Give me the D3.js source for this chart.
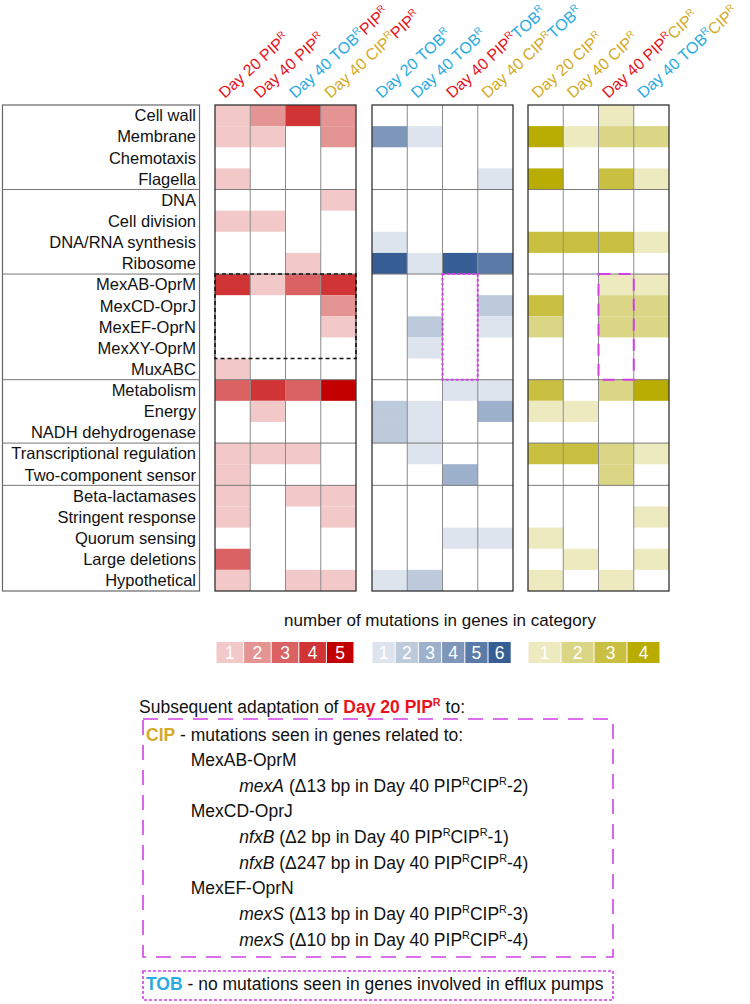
<!DOCTYPE html>
<html><head><meta charset="utf-8">
<script src="https://cdn.jsdelivr.net/npm/d3@7"></script>
<style>body{margin:0;background:#fff} svg{display:block;font-family:"Liberation Sans",Arial,sans-serif}</style>
</head><body><svg id="c" width="750" height="1004"></svg>
<script>
const categories = ["Cell wall","Membrane","Chemotaxis","Flagella","DNA","Cell division","DNA/RNA synthesis","Ribosome","MexAB-OprM","MexCD-OprJ","MexEF-OprN","MexXY-OprM","MuxABC","Metabolism","Energy","NADH dehydrogenase","Transcriptional regulation","Two-component sensor","Beta-lactamases","Stringent response","Quorum sensing","Large deletions","Hypothetical"];
const groupEnds = ["Flagella","Ribosome","MuxABC","NADH dehydrogenase","Two-component sensor"];

// column labels: segments [text, drug colour key]; each segment gets a superscript R
const pipColumns = [[["Day 20 PIP","PIP"]],[["Day 40 PIP","PIP"]],[["Day 40 TOB","TOB"],["PIP","PIP"]],[["Day 40 CIP","CIP"],["PIP","PIP"]]];
const tobColumns = [[["Day 20 TOB","TOB"]],[["Day 40 TOB","TOB"]],[["Day 40 PIP","PIP"],["TOB","TOB"]],[["Day 40 CIP","CIP"],["TOB","TOB"]]];
const cipColumns = [[["Day 20 CIP","CIP"]],[["Day 40 CIP","CIP"]],[["Day 40 PIP","PIP"],["CIP","CIP"]],[["Day 40 TOB","TOB"],["CIP","CIP"]]];

// number of mutations per category (rows) x column
const pipValues = [
 [1,2,4,2],[1,1,0,2],[0,0,0,0],[1,0,0,0],[0,0,0,1],[1,1,0,0],[0,0,0,0],[0,0,1,0],
 [4,1,3,4],[0,0,0,2],[0,0,0,1],[0,0,0,0],[1,0,0,0],
 [3,4,3,5],[0,1,0,0],[0,0,0,0],
 [1,1,1,0],[1,0,0,0],
 [1,0,1,1],[1,0,0,1],[0,0,0,0],[3,0,0,0],[1,0,1,1]];
const tobValues = [
 [0,0,0,0],[4,1,0,0],[0,0,0,0],[0,0,0,1],[0,0,0,0],[0,0,0,0],[1,0,0,0],[6,1,6,5],
 [0,0,0,0],[0,0,0,2],[0,2,0,1],[0,1,0,0],[0,0,0,0],
 [0,0,1,1],[2,1,0,3],[2,1,0,0],
 [0,1,0,0],[0,0,3,0],
 [0,0,0,0],[0,0,0,0],[0,0,1,1],[0,0,0,0],[1,2,0,0]];
const cipValues = [
 [0,0,1,0],[4,1,2,2],[0,0,0,0],[4,0,3,1],[0,0,0,0],[0,0,0,0],[3,3,3,1],[0,0,0,0],
 [0,0,1,1],[3,0,2,2],[2,0,2,2],[0,0,0,0],[0,0,0,0],
 [3,0,2,4],[1,1,0,0],[0,0,0,0],
 [3,3,2,1],[0,0,2,0],
 [0,0,0,0],[0,0,0,1],[1,0,0,0],[0,1,0,1],[1,0,1,0]];

const redLevels = [1,2,3,4,5];
const blueLevels = [1,2,3,4,5,6];
const yellowLevels = [1,2,3,4];
const redColors = ["#f2c8c8","#e59494","#db6262","#d03434","#c20000"];
const blueColors = ["#dde4ee","#bdcadc","#9db1cc","#7d96ba","#5a7ba8","#375e94"];
const yellowColors = ["#edeac0","#dad686","#c9c042","#b9ad04"];
const drugColors = {PIP:"#e8131b", TOB:"#29abe2", CIP:"#d4aa26"};
const legendTitle = "number of mutations in genes in category";

const svg = d3.select("#c");
const rowTop = 105, rowBottom = 591;
const y = d3.scaleBand().domain(categories).range([rowTop, rowBottom]);
const rh = y.bandwidth();

const panels = [
 {x0:215, cols:pipColumns, vals:pipValues, levels:redLevels, colors:redColors, lx:216, lw:27.6},
 {x0:372, cols:tobColumns, vals:tobValues, levels:blueLevels, colors:blueColors, lx:372, lw:23.2},
 {x0:528, cols:cipColumns, vals:cipValues, levels:yellowLevels, colors:yellowColors, lx:528, lw:33}
];
const panelW = 141;

// label box
svg.append("rect").attr("x",2.5).attr("y",rowTop).attr("width",197).attr("height",rowBottom-rowTop)
  .attr("fill","none").attr("stroke","#666").attr("stroke-width",1.2);
groupEnds.forEach(g=>{
  const yy = y(g)+rh;
  svg.append("line").attr("x1",2.5).attr("x2",199.5).attr("y1",yy).attr("y2",yy).attr("stroke","#777").attr("stroke-width",1);
});
svg.append("g").selectAll("text").data(categories).join("text")
  .attr("x",196).attr("y",d=>y(d)+rh/2).attr("dy","0.35em").attr("text-anchor","end")
  .attr("font-size","16.5px").attr("fill","#111").text(d=>d);

function addLabel(g, segs, x, yy, size){
  const t = g.append("text").attr("transform",`translate(${x},${yy}) rotate(-42)`).attr("font-size",size+"px");
  const up = size*0.4;
  segs.forEach((s,i)=>{
    const main = t.append("tspan").attr("fill",drugColors[s[1]]).text(s[0]);
    if(i>0) main.attr("dy",up);
    t.append("tspan").attr("fill",drugColors[s[1]]).attr("font-size",(size*0.62)+"px").attr("dy",-up).text("R");
  });
}

panels.forEach(p=>{
  const x = d3.scaleBand().domain(d3.range(4)).range([p.x0, p.x0+panelW]);
  const color = d3.scaleOrdinal().domain(p.levels).range(p.colors);
  const g = svg.append("g");
  const cells = [];
  categories.forEach((c,i)=>p.vals[i].forEach((v,j)=>{ if(v>0) cells.push({c,j,v}); }));
  g.selectAll("rect.cell").data(cells).join("rect").attr("class","cell")
    .attr("x",d=>x(d.j)).attr("y",d=>y(d.c)).attr("width",x.bandwidth()).attr("height",rh)
    .attr("fill",d=>color(d.v));
  [1,2,3].forEach(j=>{
    g.append("line").attr("x1",x(j)).attr("x2",x(j)).attr("y1",rowTop).attr("y2",rowBottom).attr("stroke","#8c8c8c").attr("stroke-width",1);
  });
  groupEnds.forEach(ge=>{
    const yy = y(ge)+rh;
    g.append("line").attr("x1",p.x0).attr("x2",p.x0+panelW).attr("y1",yy).attr("y2",yy).attr("stroke","#7a7a7a").attr("stroke-width",1);
  });
  g.append("rect").attr("x",p.x0).attr("y",rowTop).attr("width",panelW).attr("height",rowBottom-rowTop)
    .attr("fill","none").attr("stroke","#333").attr("stroke-width",1.3);
  p.cols.forEach((segs,j)=>addLabel(svg, segs, x(j)+x.bandwidth()/2-8, 99, 16));
  const lg = svg.append("g");
  p.levels.forEach((lv,k)=>{
    lg.append("rect").attr("x",p.lx+k*p.lw+0.5).attr("y",642).attr("width",p.lw-1).attr("height",21).attr("fill",color(lv));
    lg.append("text").attr("x",p.lx+k*p.lw+p.lw/2).attr("y",652.5).attr("dy","0.36em").attr("text-anchor","middle")
      .attr("fill","#fff").attr("font-size","17.5px").text(lv);
  });
  p.xScale = x;
});

// highlight boxes
const xr = panels[0].xScale, xb = panels[1].xScale, xc = panels[2].xScale;
svg.append("rect").attr("x",xr(0)).attr("y",y("MexAB-OprM")).attr("width",panelW).attr("height",y("MuxABC")-y("MexAB-OprM"))
  .attr("fill","none").attr("stroke","#111").attr("stroke-width",1.5).attr("stroke-dasharray","4,3");
svg.append("rect").attr("x",xb(2)).attr("y",y("MexAB-OprM")).attr("width",xb.bandwidth()).attr("height",y("Metabolism")-y("MexAB-OprM"))
  .attr("fill","none").attr("stroke","#d040e6").attr("stroke-width",2).attr("stroke-dasharray","3,2");
svg.append("rect").attr("x",xc(2)).attr("y",y("MexAB-OprM")).attr("width",xc.bandwidth()).attr("height",y("Metabolism")-y("MexAB-OprM"))
  .attr("fill","none").attr("stroke","#d040e6").attr("stroke-width",2).attr("stroke-dasharray","12,8");

svg.append("text").attr("x",440).attr("y",626).attr("text-anchor","middle").attr("font-size","17px").attr("fill","#111").text(legendTitle);

// text block
const fs = 17.5;
const intro = svg.append("text").attr("x",139).attr("y",713).attr("font-size",fs+"px").attr("fill","#111");
intro.append("tspan").text("Subsequent adaptation of ");
intro.append("tspan").attr("font-weight","bold").attr("fill",drugColors.PIP).text("Day 20 PIP");
intro.append("tspan").attr("font-weight","bold").attr("fill",drugColors.PIP).attr("font-size",(fs*0.62)+"px").attr("dy",-fs*0.4).text("R");
intro.append("tspan").attr("dy",fs*0.4).text(" to:");

svg.append("rect").attr("x",143).attr("y",719).attr("width",470).attr("height",238)
  .attr("fill","none").attr("stroke","#d040e6").attr("stroke-width",1.6).attr("stroke-dasharray","15,10");
svg.append("rect").attr("x",143).attr("y",971).attr("width",470).attr("height",29)
  .attr("fill","none").attr("stroke","#d040e6").attr("stroke-width",1.6).attr("stroke-dasharray","3,2");

const cipLine = svg.append("text").attr("x",146).attr("y",741).attr("font-size",fs+"px").attr("fill","#111");
cipLine.append("tspan").attr("font-weight","bold").attr("fill",drugColors.CIP).text("CIP");
cipLine.append("tspan").text(" - mutations seen in genes related to:");

const pumpLines = [
 {pump:"MexAB-OprM", y:766, genes:[["mexA","13","2",792]]},
 {pump:"MexCD-OprJ", y:817, genes:[["nfxB","2","1",843],["nfxB","247","4",869]]},
 {pump:"MexEF-OprN", y:894, genes:[["mexS","13","3",920],["mexS","10","4",946]]}
];
const sh = fs*0.4, ss = (fs*0.62)+"px";
pumpLines.forEach(pl=>{
  svg.append("text").attr("x",190.7).attr("y",pl.y).attr("font-size",fs+"px").attr("fill","#111").text(pl.pump);
  pl.genes.forEach(gn=>{
    const t = svg.append("text").attr("x",239.3).attr("y",gn[3]).attr("font-size",fs+"px").attr("fill","#111");
    t.append("tspan").attr("font-style","italic").text(gn[0]);
    t.append("tspan").text(` (\u0394${gn[1]} bp in Day 40 PIP`);
    t.append("tspan").attr("font-size",ss).attr("dy",-sh).text("R");
    t.append("tspan").attr("dy",sh).text("CIP");
    t.append("tspan").attr("font-size",ss).attr("dy",-sh).text("R");
    t.append("tspan").attr("dy",sh).text(`-${gn[2]})`);
  });
});

const tobLine = svg.append("text").attr("x",146).attr("y",990).attr("font-size",fs+"px").attr("fill","#111");
tobLine.append("tspan").attr("font-weight","bold").attr("fill",drugColors.TOB).text("TOB");
tobLine.append("tspan").text(" - no mutations seen in genes involved in efflux pumps");
</script></body></html>
